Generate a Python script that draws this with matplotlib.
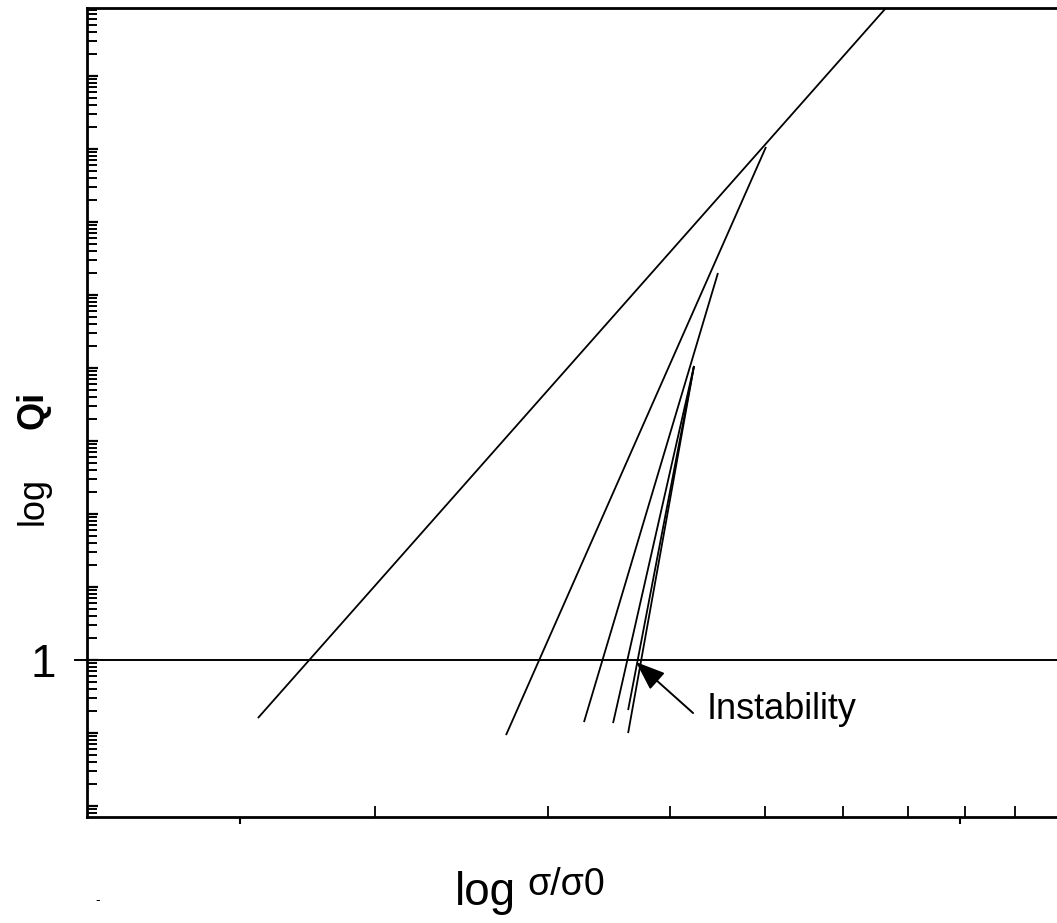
"""Log-log sketch of Qi against sigma/sigma0 with the instability marker."""

import matplotlib

matplotlib.use("Agg")
import matplotlib.pyplot as plt
from matplotlib.ticker import FixedLocator, FuncFormatter, LogLocator, NullFormatter

plt.rcParams["font.family"] = ["Liberation Sans", "DejaVu Sans"]

# each curve is a straight segment on log-log axes: (sigma/sigma0, Qi) at both ends
SIGMA_LOW = [1.519, 2.721, 3.268, 3.499, 3.625, 3.625]
Q_LOW = [0.1605, 0.0939, 0.1415, 0.137, 0.100, 0.2065]
SIGMA_HIGH = [6.645, 5.012, 4.477, 4.232, 4.232, 4.232]
Q_HIGH = [8.55e8, 1.065e7, 2.0e5, 1.065e4, 1.065e4, 1.065e4]

Q_REFERENCE = 1.0  # horizontal line Qi = 1

INSTABILITY_TIP = (3.693, 0.939)
INSTABILITY_TAIL = (4.223, 0.188)
INSTABILITY_TEXT = (4.363, 0.213)

X_ODD_TICKS = [1.457, 7.907]
XLIM = (1.0166, 9.93)
YLIM = (10 ** -2.15, 10 ** 8.93)


def render(path="out.png"):
    fig = plt.figure(figsize=(10.57, 9.23), dpi=100)
    ax = fig.add_axes([0.0823, 0.1148, 0.9177, 0.8765])
    ax.set_xscale("log")
    ax.set_yscale("log")
    ax.set_xlim(*XLIM)
    ax.set_ylim(*YLIM)

    for xs0, q0, xs1, q1 in zip(SIGMA_LOW, Q_LOW, SIGMA_HIGH, Q_HIGH):
        ax.plot([xs0, xs1], [q0, q1], color="black", lw=1.3, solid_capstyle="butt")

    ax.axhline(Q_REFERENCE, xmin=-0.012, xmax=1.0, color="black", lw=1.4, clip_on=False)

    ax.annotate(
        "",
        xy=INSTABILITY_TIP,
        xytext=INSTABILITY_TAIL,
        arrowprops=dict(
            arrowstyle="-|>,head_length=1.0,head_width=0.38",
            mutation_scale=18,
            color="black",
            lw=1.4,
            shrinkA=0,
            shrinkB=0,
        ),
    )
    ax.text(*INSTABILITY_TEXT, "Instability", fontsize=26, ha="left", va="center")

    ax.spines["right"].set_visible(False)
    for side in ("left", "bottom", "top"):
        ax.spines[side].set_linewidth(2.0)

    # x: unlabeled inward minor ticks, two stray outward marks
    ax.xaxis.set_major_locator(FixedLocator(X_ODD_TICKS))
    ax.xaxis.set_major_formatter(NullFormatter())
    ax.xaxis.set_minor_locator(FixedLocator([2, 3, 4, 5, 6, 7, 8, 9]))
    ax.xaxis.set_minor_formatter(NullFormatter())
    ax.tick_params(axis="x", which="major", direction="out", length=5, width=1.5)
    ax.tick_params(axis="x", which="minor", direction="in", length=8, width=1.3)

    # y: decade ticks, only "1" labelled
    ax.yaxis.set_major_locator(LogLocator(base=10, numticks=30))
    ax.yaxis.set_minor_locator(LogLocator(base=10, subs=range(2, 10), numticks=30))
    ax.yaxis.set_major_formatter(FuncFormatter(lambda v, _: "1" if abs(v - 1) < 1e-9 else ""))
    ax.yaxis.set_minor_formatter(NullFormatter())
    ax.tick_params(axis="y", which="major", direction="in", length=8, width=1.6,
                   labelsize=33, pad=22)
    ax.tick_params(axis="y", which="minor", direction="in", length=7, width=1.4)

    fig.text(0.031, 0.457, "log", rotation=90, fontsize=26, ha="center", va="center")
    fig.text(0.031, 0.556, "Qi", rotation=90, fontsize=26, fontweight="bold",
             ha="center", va="center")

    fig.text(0.459, 0.0195, "log", fontsize=33, ha="center", va="baseline")
    fig.text(0.4985, 0.0303, "σ/σ0", fontsize=27, ha="left", va="baseline")
    fig.text(0.092, 0.021, "-", fontsize=10, ha="center", va="baseline")

    fig.savefig(path, dpi=100)
    plt.close(fig)


if __name__ == "__main__":
    render()
